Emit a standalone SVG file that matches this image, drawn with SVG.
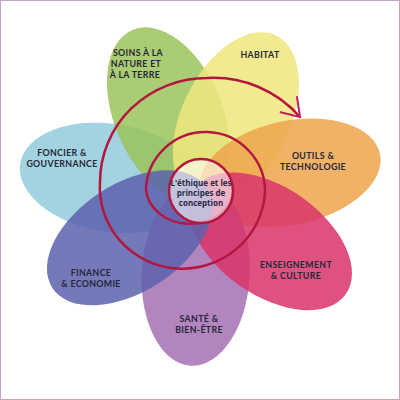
<svg xmlns="http://www.w3.org/2000/svg" width="400" height="400" viewBox="0 0 400 400">
<style>
.petal{fill-opacity:0.85;stroke:none}
.lbl{font-family:Lato,"Open Sans","Liberation Sans",sans-serif;font-weight:700;font-size:8.8px;letter-spacing:0.35px;fill:#262838;text-anchor:middle}
.ctr{font-family:"Open Sans","Liberation Sans",sans-serif;font-weight:700;font-size:8px;fill:#2a2a44;text-anchor:middle}
.spiral{fill:none;stroke:#b3173f;stroke-width:2.5;stroke-linecap:round}
</style>
<rect x="0" y="0" width="400" height="400" fill="#ffffff"/>
<rect x="0.5" y="0.5" width="399" height="399" fill="none" stroke="#bca6c2" stroke-width="1"/>
<g id="petal-foncier"><ellipse class="petal" cx="111.1" cy="177.9" rx="92" ry="54" fill="#93cadb" transform="rotate(189 111.1 177.9)"/></g>
<g id="petal-soins"><ellipse class="petal" cx="168.3" cy="114.6" rx="92" ry="54" fill="#9bc35b" transform="rotate(-113 168.3 114.6)"/></g>
<g id="petal-habitat"><ellipse class="petal" cx="235.9" cy="118.3" rx="92" ry="54" fill="#f0e67c" transform="rotate(-64 235.9 118.3)"/></g>
<g id="petal-outils"><ellipse class="petal" cx="290" cy="172.9" rx="92" ry="52" fill="#eea54c" transform="rotate(-12 290 172.9)"/></g>
<g id="petal-sante"><ellipse class="petal" cx="195.7" cy="273.9" rx="92" ry="54" fill="#a670b3" transform="rotate(93 195.7 273.9)"/></g>
<g id="petal-enseignement"><ellipse class="petal" cx="270.5" cy="241.3" rx="92" ry="54" fill="#d9346a" transform="rotate(35 270.5 241.3)"/></g>
<g id="petal-finance"><ellipse class="petal" cx="129.5" cy="237.8" rx="92" ry="54" fill="#5c61ad" transform="rotate(147 129.5 237.8)"/></g>
<g id="connectors">
<path class="spiral" d="M 233 194 A 44 37 0 0 1 146 190 A 59.5 59.5 0 0 1 265 193 A 82.5 81 0 0 1 100 182 A 107 104 0 0 1 207 78 A 115 115 0 0 1 300 117"/>
<path d="M 297 97 L 300 117 L 280.6 112.2" fill="none" stroke="#c2205e" stroke-width="2" stroke-linecap="round" stroke-linejoin="round"/>
</g>
<g id="center">
<circle cx="201" cy="191" r="32" fill="#ffffff" fill-opacity="0.6" stroke="#b3173f" stroke-width="2.5"/>
<text class="ctr" x="201" y="186">L'éthique et les</text>
<text class="ctr" x="201" y="196">principes de</text>
<text class="ctr" x="201" y="206">conception</text>
</g>
<g id="label-soins">
<text class="lbl" x="138" y="56">SOINS À LA</text>
<text class="lbl" x="136" y="67">NATURE ET</text>
<text class="lbl" x="135" y="78">À LA TERRE</text>
</g>
<g id="label-habitat"><text class="lbl" x="260" y="58">HABITAT</text></g>
<g id="label-outils">
<text class="lbl" x="313" y="159">OUTILS &amp;</text>
<text class="lbl" x="313" y="170">TECHNOLOGIE</text>
</g>
<g id="label-foncier">
<text class="lbl" x="62" y="156">FONCIER &amp;</text>
<text class="lbl" x="62" y="167">GOUVERNANCE</text>
</g>
<g id="label-enseignement">
<text class="lbl" x="296" y="268">ENSEIGNEMENT</text>
<text class="lbl" x="296" y="279">&amp; CULTURE</text>
</g>
<g id="label-finance">
<text class="lbl" x="91" y="276">FINANCE</text>
<text class="lbl" x="91" y="287">&amp; ECONOMIE</text>
</g>
<g id="label-sante">
<text class="lbl" x="199" y="322">SANTÉ &amp;</text>
<text class="lbl" x="199" y="333">BIEN-ÊTRE</text>
</g>
</svg>
